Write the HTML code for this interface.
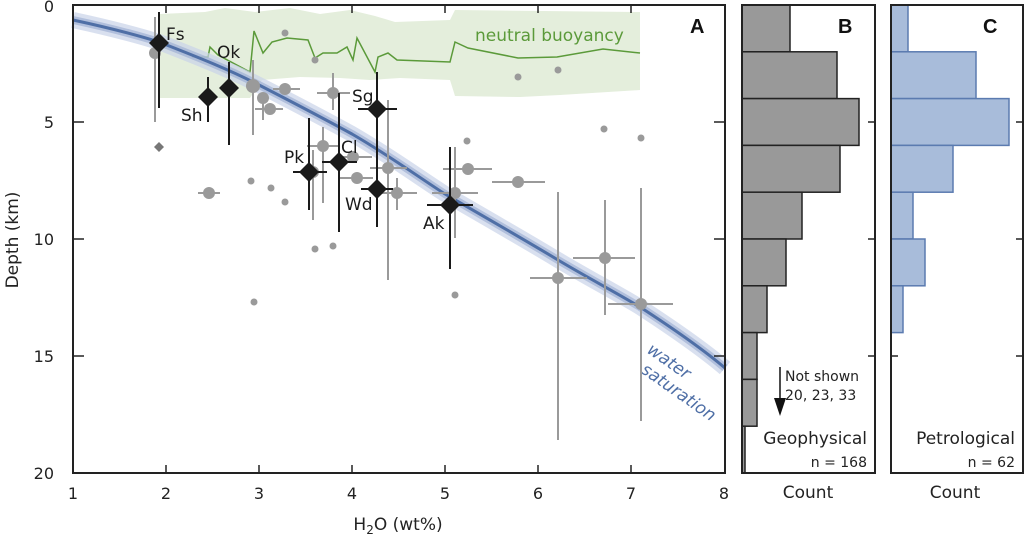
<!DOCTYPE html>
<html><head><meta charset="utf-8"><style>
body{margin:0;background:#fff}
svg{display:block;font-family:"DejaVu Sans","Liberation Sans",sans-serif}
</style></head><body>
<svg width="1024" height="537" viewBox="0 0 1024 537" xmlns="http://www.w3.org/2000/svg">
<path d="M160,14 L205,12 L225,8 L255,12 L290,8 L320,14 L350,10 L375,16 L395,22 L450,20 L455,10 L640,12 L640,90 L560,95 L520,97 L455,96 L450,80 L400,78 L370,80 L340,78 L300,77 L262,80 L250,98 L160,98 Z" fill="#e4eedc"/>
<polyline fill="none" stroke="#5b9a3a" stroke-width="1.5" points="192,57 208,57 210,47 218,55 250,72 254,31 263,53 272,42 287,38 308,40 315,58 323,53 337,53 347,47 353,60 357,38 375,72 378,57 388,53 397,60 450,62 455,42 468,48 518,58 557,57 603,49 640,53"/>
<text x="475" y="41" font-size="17" fill="#5b9a3a">neutral buoyancy</text>
<path d="M73,20 C110,28 140,36 159,42 C200,58 230,70 259,85 C300,106 330,122 352,134 C390,156 420,178 445,194 C490,220 530,243 558,260 C590,279 615,292 640,307 C680,333 705,351 725,368" fill="none" stroke="#c9d3e8" stroke-width="16" stroke-opacity="0.7"/>
<path d="M73,20 C110,28 140,36 159,42 C200,58 230,70 259,85 C300,106 330,122 352,134 C390,156 420,178 445,194 C490,220 530,243 558,260 C590,279 615,292 640,307 C680,333 705,351 725,368" fill="none" stroke="#9fb0d4" stroke-width="8" stroke-opacity="0.7"/>
<path d="M73,20 C110,28 140,36 159,42 C200,58 230,70 259,85 C300,106 330,122 352,134 C390,156 420,178 445,194 C490,220 530,243 558,260 C590,279 615,292 640,307 C680,333 705,351 725,368" fill="none" stroke="#4f6fa6" stroke-width="3"/>
<text transform="translate(646,352) rotate(35)" font-size="17" font-style="italic" fill="#4f6fa6">water</text>
<text transform="translate(640,372) rotate(35)" font-size="17" font-style="italic" fill="#4f6fa6">saturation</text>
<g stroke="#9a9a9a" stroke-width="2">
<line x1="155" y1="17" x2="155" y2="122"/>
<line x1="253" y1="60" x2="253" y2="135"/>
<line x1="255" y1="109" x2="283" y2="109"/>
<line x1="263" y1="98" x2="263" y2="120"/>
<line x1="273" y1="89" x2="300" y2="89"/>
<line x1="317" y1="93" x2="350" y2="93"/><line x1="333" y1="73" x2="333" y2="110"/>
<line x1="198" y1="193" x2="220" y2="193"/>
<line x1="307" y1="146" x2="340" y2="146"/><line x1="323" y1="127" x2="323" y2="203"/>
<line x1="337" y1="157" x2="372" y2="157"/>
<line x1="340" y1="178" x2="373" y2="178"/>
<line x1="370" y1="168" x2="407" y2="168"/><line x1="388" y1="100" x2="388" y2="280"/>
<line x1="377" y1="193" x2="417" y2="193"/><line x1="397" y1="178" x2="397" y2="210"/>
<line x1="313" y1="150" x2="313" y2="220"/>
<line x1="443" y1="169" x2="492" y2="169"/>
<line x1="492" y1="182" x2="545" y2="182"/>
<line x1="432" y1="193" x2="478" y2="193"/><line x1="455" y1="147" x2="455" y2="238"/>
<line x1="530" y1="278" x2="587" y2="278"/><line x1="558" y1="192" x2="558" y2="440"/>
<line x1="573" y1="258" x2="635" y2="258"/><line x1="605" y1="200" x2="605" y2="315"/>
<line x1="608" y1="304" x2="673" y2="304"/><line x1="641" y1="188" x2="641" y2="421"/>
</g>
<g fill="#9a9a9a">
<circle cx="155" cy="53" r="6"/><circle cx="253" cy="86" r="7"/><circle cx="263" cy="98" r="6"/><circle cx="270" cy="109" r="6"/>
<circle cx="285" cy="89" r="6"/><circle cx="333" cy="93" r="6"/><circle cx="209" cy="193" r="6"/><circle cx="323" cy="146" r="6"/>
<circle cx="353" cy="157" r="6"/><circle cx="357" cy="178" r="6"/><circle cx="388" cy="168" r="6"/><circle cx="397" cy="193" r="6"/>
<circle cx="313" cy="172" r="6"/><circle cx="468" cy="169" r="6"/><circle cx="518" cy="182" r="6"/><circle cx="455" cy="193" r="6"/>
<circle cx="558" cy="278" r="6"/><circle cx="605" cy="258" r="6"/><circle cx="641" cy="304" r="6"/>
<circle cx="285" cy="33" r="3.5"/><circle cx="315" cy="60" r="3.5"/><circle cx="251" cy="181" r="3.5"/><circle cx="271" cy="188" r="3.5"/>
<circle cx="285" cy="202" r="3.5"/><circle cx="315" cy="249" r="3.5"/><circle cx="333" cy="246" r="3.5"/><circle cx="518" cy="77" r="3.5"/>
<circle cx="558" cy="70" r="3.5"/><circle cx="467" cy="141" r="3.5"/><circle cx="604" cy="129" r="3.5"/><circle cx="641" cy="138" r="3.5"/>
<circle cx="455" cy="295" r="3.5"/><circle cx="254" cy="302" r="3.5"/>
<path d="M159,142 L164,147 L159,152 L154,147 Z" fill="#777"/>
</g>
<g stroke="#1a1a1a" stroke-width="2">
<line x1="159" y1="12" x2="159" y2="108"/>
<line x1="208" y1="77" x2="208" y2="122"/>
<line x1="229" y1="62" x2="229" y2="145"/>
<line x1="309" y1="118" x2="309" y2="210"/><line x1="293" y1="172" x2="327" y2="172"/>
<line x1="339" y1="93" x2="339" y2="232"/><line x1="322" y1="162" x2="357" y2="162"/>
<line x1="377" y1="72" x2="377" y2="227"/><line x1="358" y1="109" x2="397" y2="109"/>
<line x1="361" y1="189" x2="393" y2="189"/>
<line x1="450" y1="147" x2="450" y2="269"/><line x1="427" y1="205" x2="473" y2="205"/>
</g>
<g fill="#1a1a1a">
<path d="M159,33 L169,43 L159,53 L149,43 Z"/>
<path d="M208,87 L218,97 L208,107 L198,97 Z"/>
<path d="M229,78 L239,88 L229,98 L219,88 Z"/>
<path d="M309,162 L319,172 L309,182 L299,172 Z"/>
<path d="M339,152 L349,162 L339,172 L329,162 Z"/>
<path d="M377,99 L387,109 L377,119 L367,109 Z"/>
<path d="M377,179 L387,189 L377,199 L367,189 Z"/>
<path d="M450,195 L460,205 L450,215 L440,205 Z"/>
</g>
<g font-size="17" fill="#1a1a1a">
<text x="166" y="40">Fs</text><text x="217" y="58">Ok</text><text x="181" y="121">Sh</text>
<text x="284" y="163">Pk</text><text x="341" y="153">Cl</text><text x="352" y="102">Sg</text>
<text x="345" y="210">Wd</text><text x="423" y="229">Ak</text>
</g>
<rect x="73" y="5" width="652" height="468" fill="none" stroke="#222" stroke-width="2"/>
<g stroke="#222" stroke-width="1.5">
<line x1="166" y1="473" x2="166" y2="465"/><line x1="259" y1="473" x2="259" y2="465"/><line x1="352" y1="473" x2="352" y2="465"/><line x1="445" y1="473" x2="445" y2="465"/><line x1="538" y1="473" x2="538" y2="465"/><line x1="631" y1="473" x2="631" y2="465"/>
<line x1="166" y1="5" x2="166" y2="13"/><line x1="259" y1="5" x2="259" y2="13"/><line x1="352" y1="5" x2="352" y2="13"/><line x1="445" y1="5" x2="445" y2="13"/><line x1="538" y1="5" x2="538" y2="13"/><line x1="631" y1="5" x2="631" y2="13"/>
<line x1="73" y1="122" x2="84" y2="122"/><line x1="73" y1="239" x2="84" y2="239"/><line x1="73" y1="356" x2="84" y2="356"/>
<line x1="725" y1="122" x2="714" y2="122"/><line x1="725" y1="239" x2="714" y2="239"/><line x1="725" y1="356" x2="714" y2="356"/>
</g>
<text x="690" y="33" font-size="20" font-weight="bold" font-family="Liberation Sans Narrow,Liberation Sans,sans-serif" fill="#111">A</text>
<g font-size="16" fill="#222" text-anchor="end">
<text x="54" y="12">0</text><text x="54" y="128">5</text><text x="54" y="245">10</text><text x="54" y="362">15</text><text x="54" y="479">20</text>
</g>
<g font-size="16" fill="#222" text-anchor="middle">
<text x="73" y="499">1</text><text x="166" y="499">2</text><text x="259" y="499">3</text><text x="352" y="499">4</text><text x="445" y="499">5</text><text x="538" y="499">6</text><text x="631" y="499">7</text><text x="724" y="499">8</text>
</g>
<g font-size="17" fill="#222" text-anchor="middle">
<text x="398" y="530">H<tspan font-size="12" dy="4">2</tspan><tspan dy="-4">O (wt%)</tspan></text>
<text x="808" y="498">Count</text><text x="955" y="498">Count</text>
</g>
<text transform="translate(18,240) rotate(-90)" font-size="17" fill="#222" text-anchor="middle">Depth (km)</text>
<g fill="#999" stroke="#222" stroke-width="1.5">
<rect x="742" y="5" width="48" height="46.8"/><rect x="742" y="51.8" width="95" height="46.8"/><rect x="742" y="98.6" width="117" height="46.8"/>
<rect x="742" y="145.4" width="98" height="46.8"/><rect x="742" y="192.2" width="60" height="46.8"/><rect x="742" y="239" width="44" height="46.8"/>
<rect x="742" y="285.8" width="25" height="46.8"/><rect x="742" y="332.6" width="15" height="46.8"/><rect x="742" y="379.4" width="15" height="46.8"/>
<rect x="742" y="426.2" width="3" height="46.8"/>
</g>
<rect x="742" y="5" width="133" height="468" fill="none" stroke="#222" stroke-width="2"/>
<g stroke="#222" stroke-width="1.5"><line x1="875" y1="122" x2="868" y2="122"/><line x1="875" y1="239" x2="868" y2="239"/><line x1="875" y1="356" x2="868" y2="356"/></g>
<text x="838" y="33" font-size="20" font-weight="bold" font-family="Liberation Sans Narrow,Liberation Sans,sans-serif" fill="#111">B</text>
<line x1="780" y1="367" x2="780" y2="400" stroke="#111" stroke-width="1.5"/>
<path d="M774,398 L786,398 L780,416 Z" fill="#111"/>
<g font-size="14" fill="#222"><text x="785" y="381">Not shown</text><text x="785" y="400">20, 23, 33</text></g>
<text x="867" y="444" font-size="17" fill="#222" text-anchor="end">Geophysical</text>
<text x="867" y="467" font-size="14" fill="#222" text-anchor="end">n = 168</text>
<g fill="#a8bcda" stroke="#5b7bb0" stroke-width="1.5">
<rect x="891" y="5" width="17" height="46.8"/><rect x="891" y="51.8" width="85" height="46.8"/><rect x="891" y="98.6" width="118" height="46.8"/>
<rect x="891" y="145.4" width="62" height="46.8"/><rect x="891" y="192.2" width="22" height="46.8"/><rect x="891" y="239" width="34" height="46.8"/>
<rect x="891" y="285.8" width="12" height="46.8"/>
</g>
<rect x="891" y="5" width="132" height="468" fill="none" stroke="#222" stroke-width="2"/>
<g stroke="#222" stroke-width="1.5"><line x1="891" y1="356" x2="898" y2="356"/><line x1="1023" y1="122" x2="1016" y2="122"/><line x1="1023" y1="239" x2="1016" y2="239"/><line x1="1023" y1="356" x2="1016" y2="356"/></g>
<text x="983" y="33" font-size="20" font-weight="bold" font-family="Liberation Sans Narrow,Liberation Sans,sans-serif" fill="#111">C</text>
<text x="1015" y="444" font-size="17" fill="#222" text-anchor="end">Petrological</text>
<text x="1015" y="467" font-size="14" fill="#222" text-anchor="end">n = 62</text>
</svg>
</body></html>
